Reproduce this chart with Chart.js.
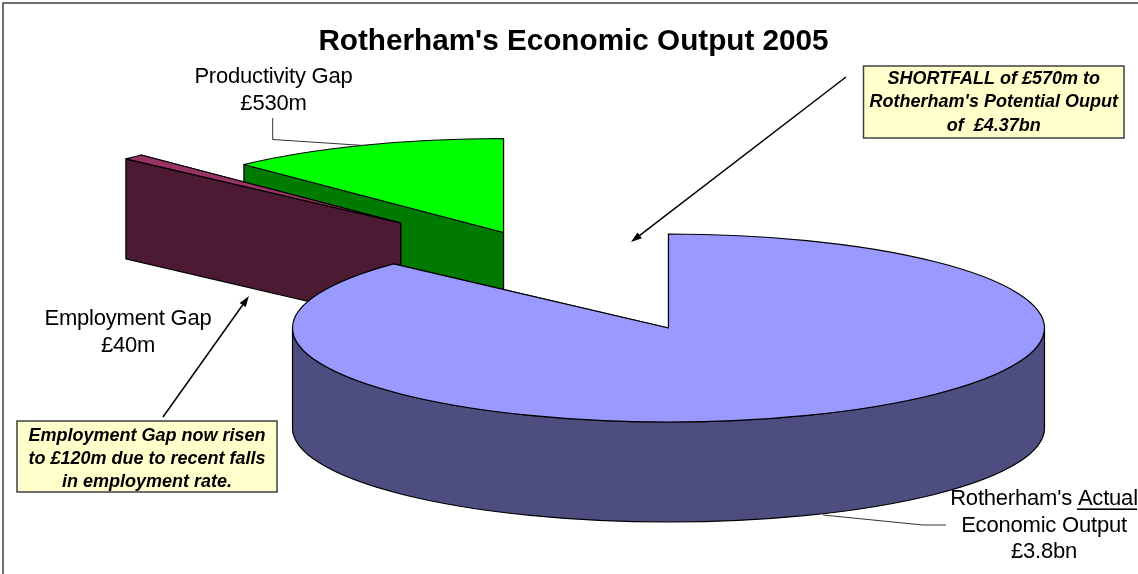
<!DOCTYPE html>
<html>
<head>
<meta charset="utf-8">
<title>Rotherham's Economic Output 2005</title>
<script src="https://cdn.jsdelivr.net/npm/chart.js@4/dist/chart.umd.min.js"></script>
<style>
  html, body { margin: 0; padding: 0; background: #fff; overflow: hidden; }
  canvas { display: block; }
</style>
</head>
<body>
<canvas id="output" width="1138" height="574"></canvas>
<script>
// Output figures in £m, in clockwise order from twelve o'clock.
const categories = ["Rotherham's Actual Economic Output", "Employment Gap", "Productivity Gap"];
const outputValues = [3800, 40, 530];
const topColors = ["#9999ff", "#993366", "#00ff00"];
const sideColors = ["#4d4d80", "#4c1a33", "#007a00"];
// Pull-out of each slice from the pie centre, in pixels.
const sliceShift = [[0, 0], [-267.8, -105], [-165, -95.5]];

const chartTitle = "Rotherham's Economic Output 2005";
const sliceCaptions = [
  { lines: ["Rotherham's Actual", "Economic Output", "£3.8bn"], x: 1044, ys: [505, 532, 558] },
  { lines: ["Employment Gap", "£40m"], x: 128, ys: [325, 351.5] },
  { lines: ["Productivity Gap", "£530m"], x: 273.5, ys: [83, 109.5] }
];
const noteBoxes = [
  { lines: ["SHORTFALL of £570m to", "Rotherham's Potential Ouput", "of  £4.37bn"],
    left: 863.5, top: 66, right: 1124, bottom: 138, ys: [84, 107, 130.5] },
  { lines: ["Employment Gap now risen", "to £120m due to recent falls", "in employment rate."],
    left: 17, top: 421, right: 277, bottom: 492, ys: [440.5, 463.5, 486.5] }
];

// Perspective of the tilted pie, relative to the arc's outer radius.
const X_STRETCH = 1.88, Y_SQUASH = 0.47, DEPTH = 0.5;

class TiltedArc extends Chart.ArcElement {
  static id = 'tiltedArc';
  draw(ctx) {
    const { x, y, startAngle, endAngle, outerRadius } = this.getProps(
      ['x', 'y', 'startAngle', 'endAngle', 'outerRadius']);
    const shift = this.shift || [0, 0];
    const cx = x + shift[0], cy = y + shift[1];
    const rx = outerRadius * X_STRETCH, ry = outerRadius * Y_SQUASH, depth = outerRadius * DEPTH;
    const rim = a => [cx + rx * Math.cos(a), cy + ry * Math.sin(a)];

    ctx.save();
    ctx.lineWidth = 1.2;
    ctx.lineJoin = 'round';
    ctx.strokeStyle = '#000';

    // Radial cut faces, far side first.
    ctx.fillStyle = this.sideColor;
    [endAngle, startAngle].forEach(a => {
      const [px, py] = rim(a);
      ctx.beginPath();
      ctx.moveTo(cx, cy);
      ctx.lineTo(px, py);
      ctx.lineTo(px, py + depth);
      ctx.lineTo(cx, cy + depth);
      ctx.closePath();
      ctx.fill();
      ctx.stroke();
    });

    // Outer wall, only where it faces the viewer.
    const lo = Math.max(startAngle, 0), hi = Math.min(endAngle, Math.PI);
    if (lo < hi) {
      ctx.beginPath();
      ctx.ellipse(cx, cy, rx, ry, 0, lo, hi);
      ctx.ellipse(cx, cy + depth, rx, ry, 0, hi, lo, true);
      ctx.closePath();
      ctx.fill();
      ctx.stroke();
    }

    // Top face.
    ctx.fillStyle = this.options.backgroundColor;
    ctx.beginPath();
    ctx.moveTo(cx, cy);
    ctx.ellipse(cx, cy, rx, ry, 0, startAngle, endAngle);
    ctx.closePath();
    ctx.fill();
    ctx.stroke();
    ctx.restore();
  }
}

class TiltedPieController extends Chart.PieController {
  static id = 'tiltedPie';
  static overrides = Chart.PieController.overrides;
  static defaults = { ...Chart.PieController.defaults, dataElementType: 'tiltedArc' };
  // Back slices are painted first so the main slice overlaps them.
  draw() {
    const arcs = this.getMeta().data;
    for (let i = arcs.length - 1; i >= 0; i--) {
      arcs[i].shift = sliceShift[i];
      arcs[i].sideColor = sideColors[i];
      arcs[i].draw(this.chart.ctx);
    }
  }
}
Chart.register(TiltedArc, TiltedPieController);

function centredLines(ctx, item) {
  item.lines.forEach((line, i) => ctx.fillText(line, item.cx ?? item.x, item.ys[i]));
}

function arrow(ctx, x0, y0, x1, y1) {
  const a = Math.atan2(y1 - y0, x1 - x0), len = 11, half = 3.6;
  const bx = x1 - len * Math.cos(a), by = y1 - len * Math.sin(a);
  ctx.beginPath();
  ctx.moveTo(x0, y0);
  ctx.lineTo(bx, by);
  ctx.stroke();
  ctx.beginPath();
  ctx.moveTo(x1, y1);
  ctx.lineTo(bx - half * Math.sin(a), by + half * Math.cos(a));
  ctx.lineTo(bx + half * Math.sin(a), by - half * Math.cos(a));
  ctx.closePath();
  ctx.fill();
}

const annotations = {
  id: 'annotations',
  beforeDraw(chart) {
    const ctx = chart.ctx;
    ctx.save();
    ctx.fillStyle = '#fff';
    ctx.fillRect(0, 0, chart.width, chart.height);
    // Outer frame, open at the right and bottom of the page.
    ctx.strokeStyle = '#404040';
    ctx.lineWidth = 1.5;
    ctx.strokeRect(3, 3, chart.width + 10, chart.height + 10);
    ctx.restore();
  },
  afterDraw(chart) {
    const ctx = chart.ctx;
    ctx.save();
    ctx.textAlign = 'center';
    ctx.textBaseline = 'alphabetic';
    ctx.fillStyle = '#000';

    ctx.font = 'bold 29.7px "Liberation Sans"';
    ctx.fillText(chartTitle, 573.5, 50);

    // Leader lines from the captions to their slices.
    ctx.strokeStyle = '#333';
    ctx.lineWidth = 1;
    ctx.beginPath();
    ctx.moveTo(272.7, 118); ctx.lineTo(272.7, 139.5); ctx.lineTo(364, 145.5);
    ctx.moveTo(823, 515); ctx.lineTo(923, 525); ctx.lineTo(946, 525);
    ctx.stroke();

    ctx.font = '22px "Liberation Sans"';
    ctx.letterSpacing = '-0.2px';
    sliceCaptions.forEach(c => centredLines(ctx, c));
    ctx.letterSpacing = '0px';
    ctx.fillRect(1077, 508.4, 60, 1.6);

    // Callout notes and the arrows leading out of them.
    ctx.strokeStyle = '#000';
    ctx.lineWidth = 1.5;
    arrow(ctx, 846, 77, 631, 242);
    arrow(ctx, 163, 417, 249, 296);

    noteBoxes.forEach(b => {
      ctx.fillStyle = '#ffffcc';
      ctx.fillRect(b.left, b.top, b.right - b.left, b.bottom - b.top);
      ctx.strokeStyle = '#404040';
      ctx.lineWidth = 1.5;
      ctx.strokeRect(b.left, b.top, b.right - b.left, b.bottom - b.top);
      ctx.fillStyle = '#000';
      ctx.font = 'italic bold 18px "Liberation Sans"';
      centredLines(ctx, { ...b, cx: (b.left + b.right) / 2 });
    });
    ctx.restore();
  }
};

new Chart(document.getElementById('output'), {
  type: 'tiltedPie',
  data: {
    labels: categories,
    datasets: [{ data: outputValues, backgroundColor: topColors, borderWidth: 0 }]
  },
  options: {
    responsive: false,
    animation: false,
    rotation: 0,
    layout: { padding: { left: 468.5, right: 269.5, top: 128, bottom: 46 } },
    plugins: { legend: { display: false }, title: { display: false }, tooltip: { enabled: false } }
  },
  plugins: [annotations]
});
</script>
</body>
</html>
